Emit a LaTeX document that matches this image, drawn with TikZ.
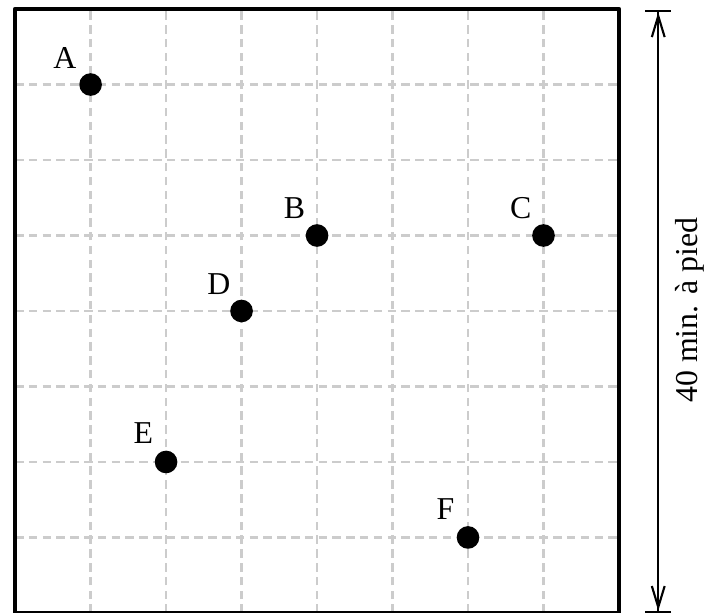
\documentclass[tikz,border=0pt]{standalone}
\usepackage{fontspec}
\setmainfont{Liberation Serif}
\usetikzlibrary{arrows.meta}
\begin{document}
\begin{tikzpicture}[
  gridline/.style={draw=black!20, line width=1pt, dash pattern=on 3.2pt off 2pt},
  boxline/.style={draw=black, line width=1.8pt, line join=round},
  dot/.style={circle, fill=black, minimum size=0.3cm, inner sep=0pt},
  lab/.style={font=\fontsize{12}{14}\selectfont, inner sep=0pt},
  dim/.style={line width=0.8pt, {Bar[width=0.34cm]Straight Barb[length=0.28cm,width=0.17cm]}-{Straight Barb[length=0.28cm,width=0.17cm]Bar[width=0.34cm]}}
]
\useasboundingbox (-0.2,0) rectangle (9.166,8.12);
\foreach \i in {1,...,7} {
  \draw[gridline] (0,\i) -- (8,\i);
  \draw[gridline] (\i,0) -- (\i,8);
}
\draw[boxline] (0,0) rectangle (8,8);
\node[dot] (A) at (1,7) {};
\node[dot] (B) at (4,5) {};
\node[dot] (C) at (7,5) {};
\node[dot] (D) at (3,4) {};
\node[dot] (E) at (2,2) {};
\node[dot] (F) at (6,1) {};
\node[lab] (lA) at (0.66,7.35) {A};
\node[lab] (lB) at (3.70,5.36) {B};
\node[lab] (lC) at (6.70,5.36) {C};
\node[lab] (lD) at (2.70,4.36) {D};
\node[lab] (lE) at (1.70,2.38) {E};
\node[lab] (lF) at (5.70,1.38) {F};
\coordinate (d0) at (8.52,0);
\coordinate (d1) at (8.52,7.985);
\draw[dim] (d0) -- (d1);
\node[lab, rotate=90] (len) at (8.94,4.01) {40 min. à pied};
\end{tikzpicture}
\end{document}
